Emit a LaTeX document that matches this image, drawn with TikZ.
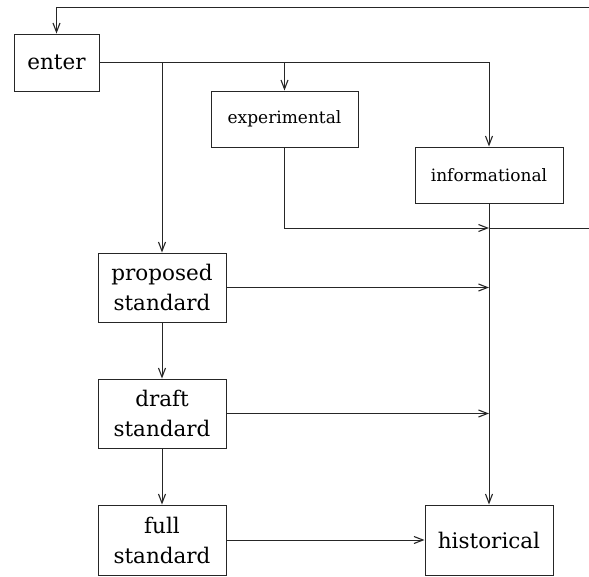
\documentclass[tikz,border=0pt]{standalone}
\usepackage{fontspec}
\setmainfont{DejaVu Serif}
\usetikzlibrary{arrows.meta}
\tikzset{
  box/.style={draw=black!85, line width=1pt, align=center, inner sep=0pt,
    font=\fontsize{21.5}{30}\selectfont},
  smallbox/.style={box, font=\fontsize{17}{21}\selectfont},
  conn/.style={draw=black!85, line width=1pt},
  arr/.style={conn, -{Straight Barb[length=9pt,width=7pt,line width=1.1pt]}}
}
\begin{document}
\begin{tikzpicture}[x=1pt,y=-1pt]
\useasboundingbox (0,0) rectangle (589,576);
\node[box, minimum width=85pt, minimum height=57pt] (enter) at (56.5,62.5) {enter};
\node[smallbox, minimum width=147pt, minimum height=56pt] (exp) at (284.5,119) {experimental};
\node[smallbox, minimum width=148pt, minimum height=56pt] (info) at (489,175) {informational};
\node[box, minimum width=128pt, minimum height=69pt] (prop) at (162,287.5) {proposed\\standard};
\node[box, minimum width=128pt, minimum height=69pt] (draft) at (162,413.5) {draft\\standard};
\node[box, minimum width=128pt, minimum height=70pt] (full) at (162,540) {full\\standard};
\node[box, minimum width=128pt, minimum height=70pt] (hist) at (489,540) {historical};
\coordinate (topR) at (589,7);
\coordinate (jx) at (489,228);
\coordinate (midR) at (589,228);
\draw[arr] (topR) -| (enter.north);
\draw[arr] (enter.east) -| (info.north);
\draw[arr] (enter.east -| exp.north) -- (exp.north);
\draw[arr] (enter.east -| prop.north) -- (prop.north);
\draw[arr] (exp.south) |- (jx);
\draw[conn] (jx) -- (midR);
\draw[arr] (info.south) -- (hist.north);
\draw[arr] (prop.east) -- (prop.east -| hist.north);
\draw[arr] (draft.east) -- (draft.east -| hist.north);
\draw[arr] (full.east) -- (hist.west);
\draw[arr] (prop.south) -- (draft.north);
\draw[arr] (draft.south) -- (full.north);
\end{tikzpicture}
\end{document}
